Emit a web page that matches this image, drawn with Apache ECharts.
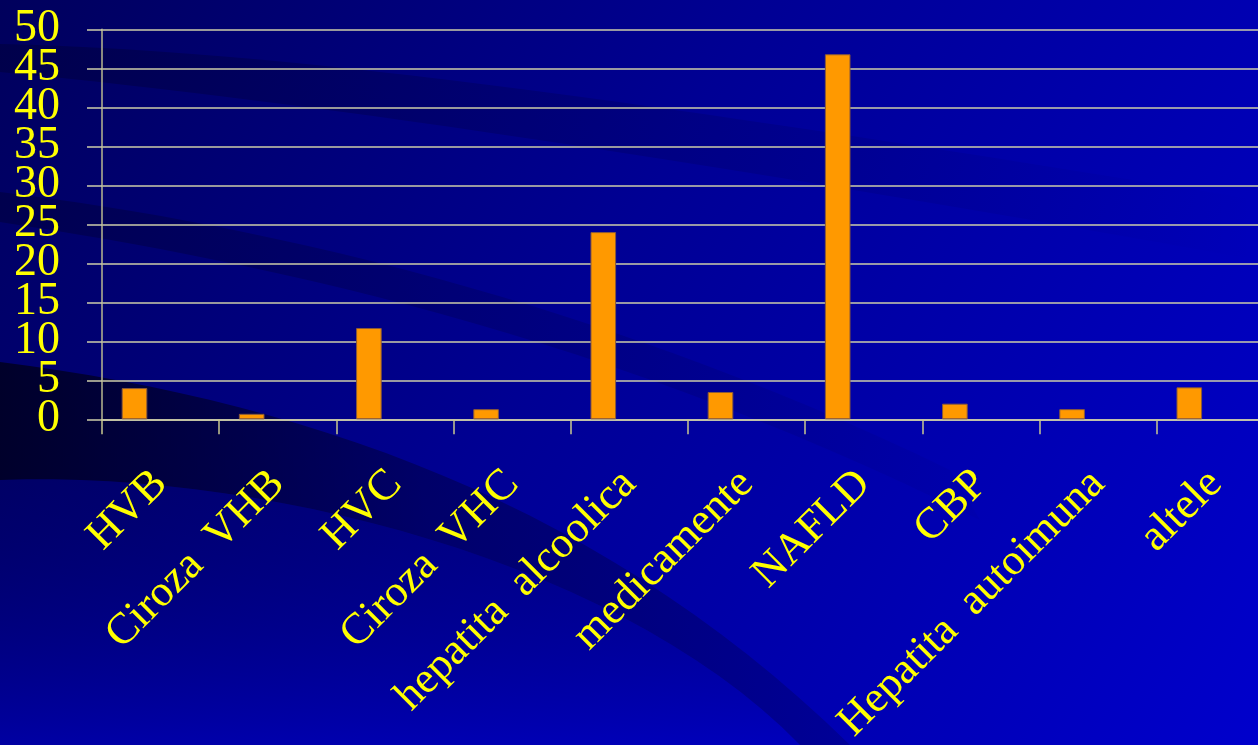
<!DOCTYPE html>
<html>
<head>
<meta charset="utf-8">
<title>Etiologie</title>
<script src="https://cdn.jsdelivr.net/npm/echarts@6/dist/echarts.min.js"></script>
<style>
  html, body { margin: 0; padding: 0; background: #000070; }
  #chart { width: 1258px; height: 745px; }
</style>
</head>
<body>
<div id="chart"></div>
<script>
// categorii si valori (%)
var categories = ['HVB', 'Ciroza  VHB', 'HVC', 'Ciroza  VHC', 'hepatita  alcoolica',
  'medicamente', 'NAFLD', 'CBP', 'Hepatita  autoimuna', 'altele'];
var values = [4.0, 0.7, 11.7, 1.3, 24.0, 3.5, 46.8, 2.0, 1.3, 4.1];
var yTicks = [0, 50, 5]; // min, max, pas

var chart = echarts.init(document.getElementById('chart'));

var yellow = '#ffff00';
var lineCol = '#cdcdaa';
var LG = echarts.graphic.LinearGradient;

// puncte pe o curba bezier cubica (pentru benzile din fundal)
function bez(p0, p1, p2, p3, n) {
  var pts = [];
  for (var i = 0; i <= n; i++) {
    var t = i / n, u = 1 - t;
    pts.push([
      u * u * u * p0[0] + 3 * u * u * t * p1[0] + 3 * u * t * t * p2[0] + t * t * t * p3[0],
      u * u * u * p0[1] + 3 * u * u * t * p1[1] + 3 * u * t * t * p2[1] + t * t * t * p3[1]
    ]);
  }
  return pts;
}
function band(top, bottom, fill) {
  return {
    type: 'polygon', z: -10, silent: true,
    shape: { points: top.concat(bottom) },
    style: { fill: fill }
  };
}

// etichetele axei Y sunt mari si se suprapun: le impartim pe doua axe identice
var yLabel = { margin: 42, color: yellow, fontFamily: 'Liberation Serif', fontSize: 46, hideOverlap: false };
function everyOther(odd) {
  return function (v) { return ((Math.round(v / yTicks[2]) % 2 === 1) === odd) ? String(v) : ''; };
}

chart.setOption({
  backgroundColor: new LG(0, 0, 1, 1, [
    { offset: 0, color: '#00005c' },
    { offset: 0.45, color: '#000094' },
    { offset: 1, color: '#0000cc' }
  ]),
  // benzile din fundal (decor)
  graphic: [
    band(bez([0, 44], [300, 50], [700, 110], [1258, 200], 30),
         bez([1258, 260], [700, 160], [300, 100], [0, 72], 30),
         new LG(0, 0, 1, 0, [{ offset: 0, color: 'rgba(0,0,25,0.28)' }, { offset: 1, color: 'rgba(0,0,25,0)' }])),
    band(bez([0, 192], [250, 222], [600, 300], [950, 470], 30),
         bez([980, 520], [600, 330], [250, 260], [0, 222], 30),
         new LG(0, 0, 1, 0, [{ offset: 0, color: 'rgba(0,0,25,0.3)' }, { offset: 1, color: 'rgba(0,0,25,0.03)' }])),
    band(bez([0, 362], [300, 400], [600, 500], [850, 745], 30),
         bez([800, 745], [620, 560], [260, 470], [0, 480], 30),
         new LG(0, 0, 1, 0, [{ offset: 0, color: 'rgba(0,0,20,0.75)' }, { offset: 0.5, color: 'rgba(0,0,30,0.35)' }, { offset: 1, color: 'rgba(0,0,40,0.2)' }])),
    band(bez([0, 480], [260, 470], [620, 560], [800, 745], 30),
         [[0, 745]],
         new LG(0, 0, 0, 1, [{ offset: 0, color: 'rgba(0,0,60,0.2)' }, { offset: 1, color: 'rgba(0,0,200,0.5)' }]))
  ],
  grid: { left: 102, right: -16, top: 29.3, bottom: 325.7, containLabel: false, outerBoundsMode: 'none' },
  xAxis: {
    type: 'category',
    data: categories,
    axisLine: { show: true, lineStyle: { color: lineCol, width: 1.5 } },
    axisTick: { show: true, length: 15, interval: 0, lineStyle: { color: '#c8c890', width: 1.5 } },
    axisLabel: {
      interval: 0, rotate: 45, margin: 58, hideOverlap: false,
      color: yellow, fontFamily: 'Liberation Serif', fontSize: 44
    },
    splitLine: { show: false }
  },
  yAxis: [
    {
      type: 'value',
      min: yTicks[0], max: yTicks[1], interval: yTicks[2],
      axisLine: { show: true, lineStyle: { color: '#b8b890', width: 1.5 } },
      axisTick: { show: true, length: 15, lineStyle: { color: lineCol, width: 1.5 } },
      axisLabel: Object.assign({ formatter: everyOther(false) }, yLabel),
      splitLine: { show: true, lineStyle: { color: lineCol, width: 1.5 } }
    },
    {
      type: 'value', position: 'left',
      min: yTicks[0], max: yTicks[1], interval: yTicks[2],
      axisLine: { show: false }, axisTick: { show: false }, splitLine: { show: false },
      axisLabel: Object.assign({ formatter: everyOther(true) }, yLabel)
    }
  ],
  series: [
    {
      type: 'bar',
      data: values,
      barWidth: 25.6,
      barGap: '104%',
      itemStyle: { color: '#ff9900', borderColor: '#8a5a3a', borderWidth: 1 },
      animation: false
    },
    {
      // a doua serie goala, ca in original (bara e deplasata la stanga)
      type: 'bar',
      data: [],
      barWidth: 25.6,
      barGap: '104%',
      animation: false
    }
  ]
});
</script>
</body>
</html>
